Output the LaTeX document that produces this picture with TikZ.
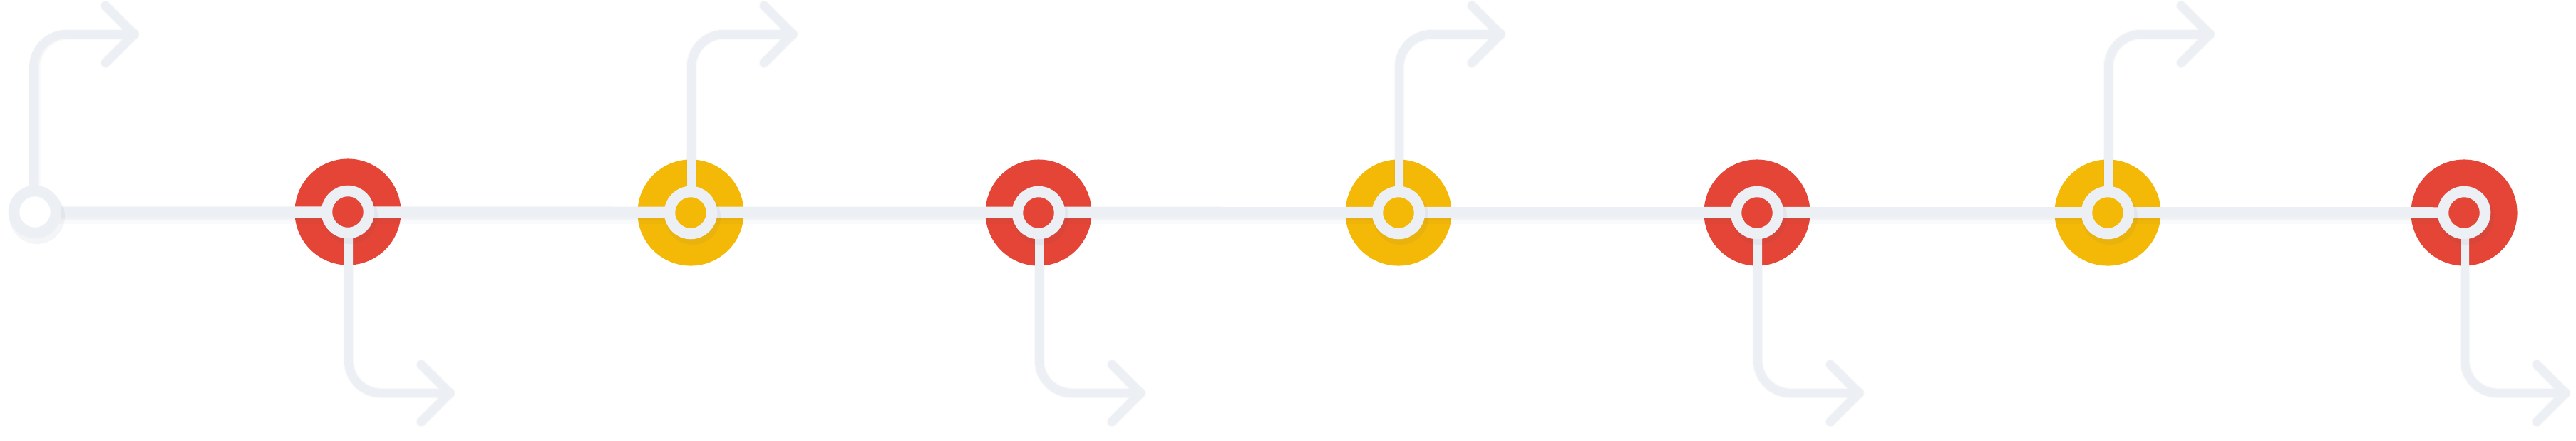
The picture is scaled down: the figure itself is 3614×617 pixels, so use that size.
\documentclass[tikz,border=0pt]{standalone}
\usetikzlibrary{calc}
\definecolor{mred}{HTML}{E44536}
\definecolor{myel}{HTML}{F4B807}
\definecolor{mgray}{HTML}{ECEFF3}
\definecolor{shd}{HTML}{4A5570}
\begin{document}
\begin{tikzpicture}[x=0.01cm,y=-0.01cm,
  disc/.style={circle,inner sep=0pt,outer sep=0pt,minimum size=1.49cm,fill=#1},
  ring/.style={circle,inner sep=0pt,outer sep=0pt,minimum size=0.59cm,draw=mgray,line width=0.155cm,fill=#1},
  mainline/.style={draw=mgray,line width=0.155cm,line cap=round},
  flow/.style={draw=mgray,line width=0.12cm,rounded corners=0.46cm},
  chev/.style={draw=mgray,line width=0.12cm,line cap=round,line join=round},
  shA/.style={draw=shd,opacity=0.03,line width=#1,line cap=round,line join=round,shift={(3,9)}},
  shB/.style={draw=shd,opacity=0.04,line width=#1,line cap=round,line join=round,shift={(2,5)}},
  ringsh/.style={circle,inner sep=0pt,minimum size=0.78cm,fill=shd,opacity=0.06}
]
\useasboundingbox (0,0) rectangle (3614,617);

% discs
\node[disc=mred] (d1) at (488,297) {};
\node[disc=myel] (d2) at (969,298) {};
\node[disc=mred] (d3) at (1457,298) {};
\node[disc=myel] (d4) at (1962,298) {};
\node[disc=mred] (d5) at (2465,298) {};
\node[disc=myel] (d6) at (2957,298) {};
\node[disc=mred] (d7) at (3457,298) {};
\coordinate (s) at (49,297);

% arrow tips
\coordinate (t0) at (188,48);
\coordinate (t1) at (631,551);
\coordinate (t2) at (1112,48);
\coordinate (t3) at (1600,551);
\coordinate (t4) at (2105,48);
\coordinate (t5) at (2608,551);
\coordinate (t6) at (3100,48);
\coordinate (t7) at (3599,551);

% shadows
\foreach \st/\w in {shA/0.15cm,shB/0.12cm}{
  \draw[\st=\w] (49,297) -- (3457,297);
  \draw[\st=\w,rounded corners=0.46cm] (47,272) |- (t0);
  \draw[\st=\w] ($(t0)+(-40,-40)$) -- (t0) -- ($(t0)+(-40,40)$);
  \foreach \d/\t in {d2/t2,d4/t4,d6/t6,d1/t1,d3/t3,d5/t5,d7/t7}{
    \draw[\st=\w,rounded corners=0.46cm] ($(\d.center)+(1,0)$) |- (\t);
    \draw[\st=\w] ($(\t)+(-40,-40)$) -- (\t) -- ($(\t)+(-40,40)$);
  }
}

% main line
\draw[mainline] (s) -- (d7.center);

% branches
\draw[flow] (47,272) |- (t0);
\draw[chev] ($(t0)+(-40,-40)$) -- (t0) -- ($(t0)+(-40,40)$);
\foreach \d/\t in {d2/t2,d4/t4,d6/t6,d1/t1,d3/t3,d5/t5,d7/t7}{
  \draw[flow] ($(\d.center)+(1,0)$) |- (\t);
  \draw[chev] ($(\t)+(-40,-40)$) -- (\t) -- ($(\t)+(-40,40)$);
}

% ring shadows
\foreach \d in {d1,d2,d3,d4,d5,d6,d7}{
  \node[ringsh] at ($(\d.center)+(3,6)$) {};
}
\node[ringsh] at ($(s)+(3,6)$) {};

% rings
\node[ring=white] (r0) at (s) {};
\node[ring=mred] (r1) at (d1) {};
\node[ring=myel] (r2) at (d2) {};
\node[ring=mred] (r3) at (d3) {};
\node[ring=myel] (r4) at (d4) {};
\node[ring=mred] (r5) at (d5) {};
\node[ring=myel] (r6) at (d6) {};
\node[ring=mred] (r7) at (d7) {};
\end{tikzpicture}
\end{document}
